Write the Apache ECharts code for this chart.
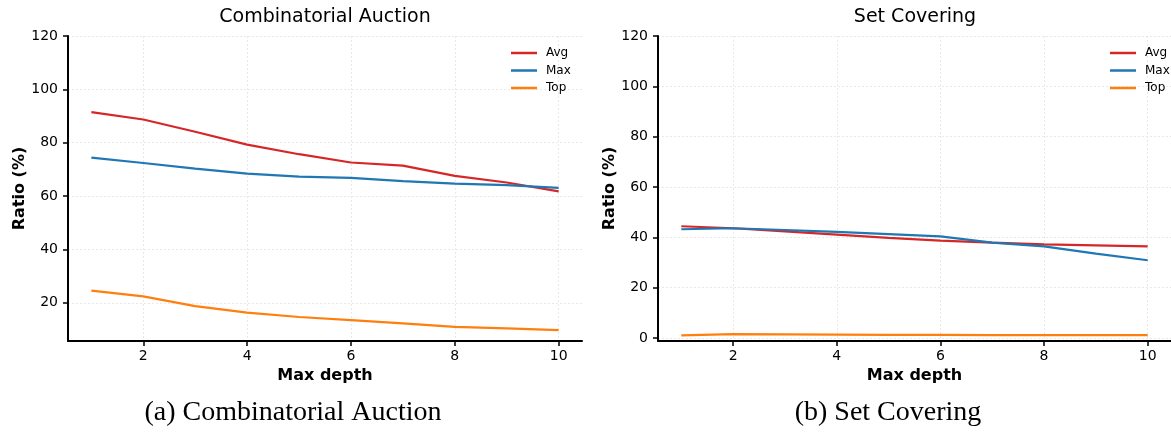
<!DOCTYPE html>
<html><head><meta charset="utf-8">
<script src="https://cdn.jsdelivr.net/npm/echarts@6/dist/echarts.min.js"></script>
<style>html,body{margin:0;padding:0;background:#fff}#c{width:1171px;height:435px}</style>
</head><body><div id="c"></div>
<script>
const depths = [1,2,3,4,5,6,7,8,9,10];
const caAvg = [91.5,88.7,84.1,79.3,75.7,72.6,71.4,67.6,65.1,61.8];
const caMax = [74.4,72.4,70.3,68.4,67.3,66.8,65.6,64.7,64.1,63.1];
const caTop = [24.6,22.4,18.8,16.3,14.7,13.5,12.3,11.0,10.4,9.8];
const scAvg = [44.4,43.6,42.4,41.1,39.8,38.7,37.9,37.2,36.8,36.4];
const scMax = [43.2,43.6,42.9,42.2,41.3,40.4,37.9,36.4,33.5,30.9];
const scTop = [1.0,1.5,1.4,1.3,1.2,1.2,1.1,1.1,1.1,1.1];
const xTicks = [2,4,6,8,10];
const yTicksCA = [20,40,60,80,100,120];
const yTicksSC = [0,20,40,60,80,100,120];
const seriesNames = ['Avg','Max','Top'];
const colors = ['#d62728','#1f77b4','#ff7f0e'];
const titles = ['Combinatorial Auction','Set Covering'];
const captions = ['(a) Combinatorial Auction','(b) Set Covering'];

const pairs = arr => depths.map((d,i)=>[d,arr[i]]);
const tickFont = {fontFamily:'DejaVu Sans', fontSize:14, color:'#000'};
const gridLine = {show:true, lineStyle:{color:'#e2e2e2', width:0.8, type:[2,2]}};

function xAxis(gi){
  return {type:'value', gridIndex:gi, min:0.55, max:10.45,
    name:'Max depth', nameLocation:'middle', nameGap:25,
    nameTextStyle:{fontFamily:'DejaVu Sans', fontWeight:'bold', fontSize:16, color:'#000'},
    axisLine:{show:true, onZero:false, lineStyle:{color:'#000', width:2}},
    axisTick:{show:true, inside:false, length:5, lineStyle:{color:'#000', width:1.5}, customValues:xTicks},
    axisLabel:Object.assign({margin:8, customValues:xTicks}, tickFont),
    splitLine:gridLine};
}
function yAxis(gi, min, ticks){
  return {type:'value', gridIndex:gi, min:min, max:120,
    name:'Ratio (%)', nameLocation:'middle', nameGap:40, nameRotate:90,
    nameTextStyle:{fontFamily:'DejaVu Sans', fontWeight:'bold', fontSize:16, color:'#000'},
    axisLine:{show:true, onZero:false, lineStyle:{color:'#000', width:2}},
    axisTick:{show:true, inside:false, length:5, lineStyle:{color:'#000', width:1.5}, customValues:ticks},
    axisLabel:Object.assign({margin:10, customValues:ticks}, tickFont),
    splitLine:gridLine};
}
function mk(name, data, gi, ci){
  return {type:'line', name:name, data:pairs(data), xAxisIndex:gi, yAxisIndex:gi,
    symbol:'none', lineStyle:{width:2.2, color:colors[ci]}, itemStyle:{color:colors[ci]}, z:3};
}
function legend(left){
  return {orient:'vertical', left:left, top:47, padding:0, itemWidth:26, itemHeight:2.5, itemGap:5.5, icon:'rect',
    data:seriesNames, textStyle:{fontFamily:'DejaVu Sans', fontSize:12, color:'#000', padding:[0,0,0,4]}, selectedMode:false};
}

const chart = echarts.init(document.getElementById('c'), null, {renderer:'canvas'});
chart.setOption({
  animation:false,
  backgroundColor:'#fff',
  grid:[{left:68, top:36, width:514, height:305},{left:658, top:36, width:515, height:305}],
  xAxis:[xAxis(0), xAxis(1)],
  yAxis:[yAxis(0, 5.7, yTicksCA), yAxis(1, -1.2, yTicksSC)],
  title:[
    {text:titles[0], left:325, top:8, padding:0, textAlign:'center', textStyle:{fontFamily:'DejaVu Sans', fontWeight:'normal', fontSize:19, color:'#000'}},
    {text:titles[1], left:915, top:8, padding:0, textAlign:'center', textStyle:{fontFamily:'DejaVu Sans', fontWeight:'normal', fontSize:19, color:'#000'}},
    {text:captions[0], left:293, top:399, padding:0, textAlign:'center', textStyle:{fontFamily:'Liberation Serif', fontWeight:'normal', fontSize:28, color:'#000'}},
    {text:captions[1], left:888, top:399, padding:0, textAlign:'center', textStyle:{fontFamily:'Liberation Serif', fontWeight:'normal', fontSize:28, color:'#000'}}
  ],
  legend:[legend(511), legend(1110)],
  series:[
    mk('Avg', caAvg, 0, 0), mk('Max', caMax, 0, 1), mk('Top', caTop, 0, 2),
    mk('Avg', scAvg, 1, 0), mk('Max', scMax, 1, 1), mk('Top', scTop, 1, 2)
  ]
});
</script></body></html>
